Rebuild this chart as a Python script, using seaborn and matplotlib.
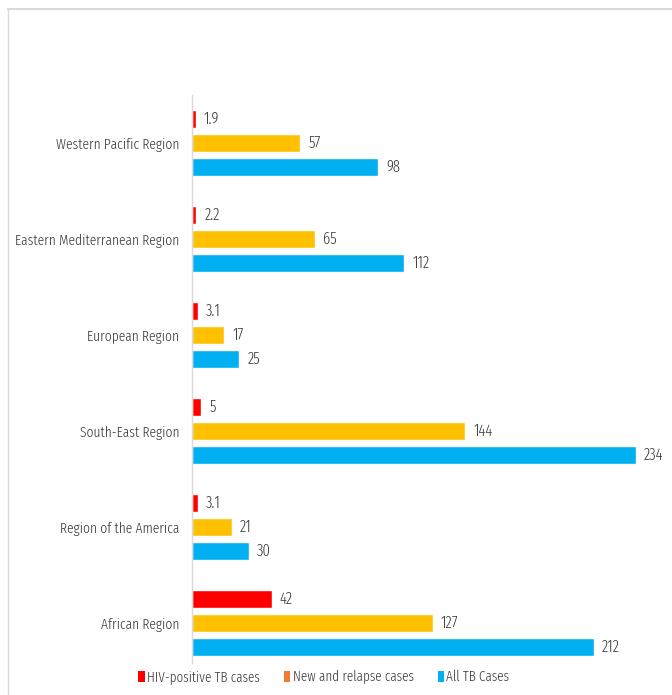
import matplotlib
matplotlib.use("Agg")
import matplotlib.pyplot as plt
from matplotlib.patches import Patch
from matplotlib.lines import Line2D
import seaborn as sns
import pandas as pd

regions = [
    "Western Pacific Region",
    "Eastern Mediterranean Region",
    "European Region",
    "South-East Region",
    "Region of the America",
    "African Region",
]
series_names = ["HIV-positive TB cases", "New and relapse cases", "All TB Cases"]
hiv_positive = [1.9, 2.2, 3.1, 5, 3.1, 42]
new_relapse = [57, 65, 17, 144, 21, 127]
all_tb = [98, 112, 25, 234, 30, 212]
label_texts = [
    ["1.9", "2.2", "3.1", "5", "3.1", "42"],
    ["57", "65", "17", "144", "21", "127"],
    ["98", "112", "25", "234", "30", "212"],
]

bar_colors = ["#FF0000", "#FFC000", "#00B0F0"]
legend_colors = ["#FF0000", "#ED7D31", "#00B0F0"]
text_color = "#3a3a3a"

df = pd.DataFrame({
    "region": regions * 3,
    "series": [s for s in series_names for _ in regions],
    "value": hiv_positive + new_relapse + all_tb,
})

sns.set_theme(style="white")
plt.rcParams["font.family"] = ["Fira Sans Extra Condensed", "DejaVu Sans"]
plt.rcParams["font.weight"] = 300

fig = plt.figure(figsize=(6.72, 6.95), dpi=100)
ax = fig.add_axes([0.2857, 0.046, 0.7057, 0.817])

sns.barplot(
    data=df, x="value", y="region", hue="series",
    order=regions, hue_order=series_names,
    palette=bar_colors, orient="h", width=0.75, gap=0.24,
    legend=False, ax=ax, saturation=1,
)

for container, texts in zip(ax.containers, label_texts):
    ax.bar_label(container, labels=texts, padding=5.8, fontsize=11.5,
                 color=text_color)

ax.set_xlim(0, 250)
ax.set_ylim(5 + 40 / 96, -0.5)
ax.set_xlabel("")
ax.set_ylabel("")
ax.set_xticks([])
ax.tick_params(axis="y", length=0, pad=9, labelsize=10.6, labelcolor=text_color)
for side in ["top", "right", "bottom"]:
    ax.spines[side].set_visible(False)
ax.spines["left"].set_color("#d9d9d9")
ax.spines["left"].set_linewidth(1.0)

handles = [Patch(facecolor=c, edgecolor="none") for c in legend_colors]
fig.legend(handles, series_names, loc="center", bbox_to_anchor=(0.482, 0.026),
           ncol=3, frameon=False, fontsize=10.3, handlelength=0.45,
           handleheight=0.8, handletextpad=0.15, columnspacing=1.7,
           labelcolor=text_color)

# outer frame of the chart area
fig.add_artist(Line2D([8 / 672, 1], [1 - 9 / 695, 1 - 9 / 695],
                      transform=fig.transFigure, color="#d9d9d9", lw=1.5))
fig.add_artist(Line2D([8 / 672, 8 / 672], [0, 1 - 9 / 695],
                      transform=fig.transFigure, color="#d9d9d9", lw=1.0))

fig.savefig("out.png", dpi=100, facecolor="white")
